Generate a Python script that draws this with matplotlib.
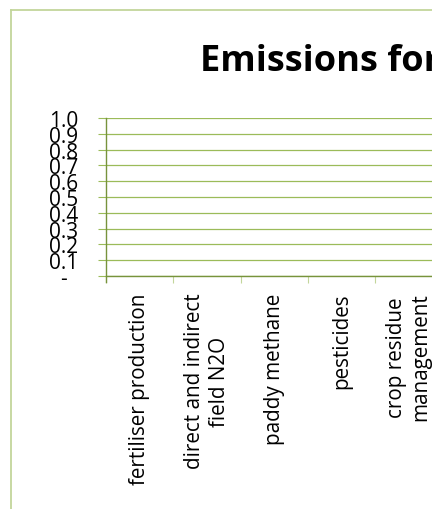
import matplotlib

matplotlib.use("Agg")
import matplotlib.pyplot as plt
import numpy as np
from matplotlib.lines import Line2D

CATEGORIES = [
    "fertiliser production",
    "direct and indirect\nfield N2O",
    "paddy methane",
    "pesticides",
    "crop residue\nmanagement",
]
VALUES = [0, 0, 0, 0, 0]
Y_TICKS = [0.0, 0.1, 0.2, 0.3, 0.4, 0.5, 0.6, 0.7, 0.8, 0.9, 1.0]
Y_LABELS = ["-  ", "0.1", "0.2", "0.3", "0.4", "0.5", "0.6", "0.7", "0.8", "0.9", "1.0"]
TITLE = "Emissions for"

GRID = "#9bbb59"
AXIS = "#77933c"
LIGHT = "#c3d69b"

plt.rcParams["font.family"] = ["Open Sans", "DejaVu Sans"]

W, H = 432, 510
fig = plt.figure(figsize=(W / 100, H / 100), dpi=100)

# chart-area border (cropped: only left and top edges are inside the picture)
fig.add_artist(Line2D([10.5 / W, 10.5 / W], [0, 1 - 10.5 / H], color=LIGHT, lw=1.3,
                      transform=fig.transFigure))
fig.add_artist(Line2D([10.5 / W, 1], [1 - 10.5 / H, 1 - 10.5 / H], color=LIGHT, lw=1.3,
                      transform=fig.transFigure))

left, right, top, bottom = 106, 106 + 5 * 67.3, 119, 277
ax = fig.add_axes([left / W, 1 - bottom / H, (right - left) / W, (bottom - top) / H])

x = np.arange(len(CATEGORIES))
ax.bar(x, VALUES, width=0.6, color=GRID, linewidth=0)
ax.set_xlim(-0.5, len(CATEGORIES) - 0.5)
ax.set_ylim(0, 1)

ax.set_yticks(Y_TICKS)
ax.set_yticklabels(Y_LABELS, fontsize=15)
ax.tick_params(axis="y", length=6, width=0.8, color=GRID, pad=14, labelcolor="black")
for spine in ("top", "right"):
    ax.spines[spine].set_visible(False)
ax.spines["left"].set_color(AXIS)
ax.spines["bottom"].set_color(AXIS)
ax.spines["left"].set_linewidth(1.0)
ax.spines["bottom"].set_linewidth(1.0)
ax.spines["left"].set_bounds(-0.04, 1)

ax.yaxis.grid(True, color=GRID, linewidth=0.9)
ax.set_axisbelow(True)

ax.set_xticks(x)
ax.set_xticklabels(CATEGORIES, rotation=90, fontsize=14.9, linespacing=1.2,
                   multialignment="center")
ax.tick_params(axis="x", which="major", length=0, pad=12)
ax.set_xticks(np.arange(-0.5, len(CATEGORIES) + 0.5, 1), minor=True)
ax.tick_params(axis="x", which="minor", length=5, width=0.8, color=LIGHT)

fig.text(200 / W, 1 - 71 / H, TITLE, fontsize=26, fontweight="bold",
         ha="left", va="baseline")

fig.savefig("out.png", dpi=100)
